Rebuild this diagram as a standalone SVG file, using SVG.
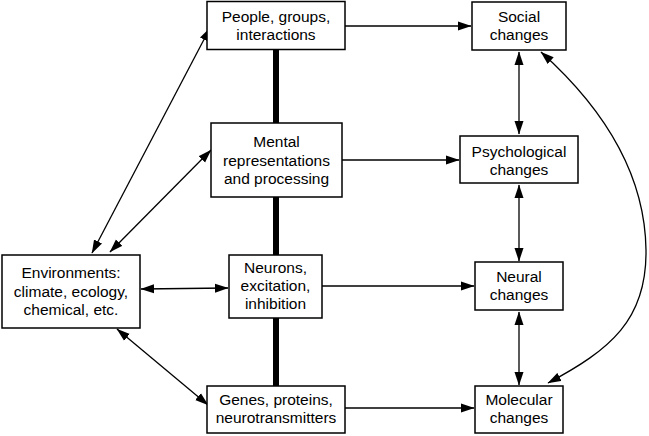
<svg xmlns="http://www.w3.org/2000/svg" width="649" height="436" viewBox="0 0 649 436">
<style>
.box{fill:#fff;stroke:#000;stroke-width:1.5}
.t{font-family:"Liberation Sans",Arial,sans-serif;font-size:15.5px;text-anchor:middle;fill:#000}
.c{fill:none;stroke:#000;stroke-width:1.3}
.thick{stroke:#000;stroke-width:6;stroke-linecap:round}
</style>
<defs>
<marker id="ah" markerUnits="userSpaceOnUse" markerWidth="14" markerHeight="10" refX="13" refY="5" orient="auto-start-reverse" viewBox="0 0 14 10">
<path d="M0,0.5 L13.5,5 L0,9.5 z" fill="#000"/>
</marker>
</defs>
<rect width="649" height="436" fill="#fff"/>
<g id="connectors">
<line class="thick" x1="276" y1="50" x2="276" y2="123"/>
<line class="thick" x1="276" y1="197" x2="276" y2="255"/>
<line class="thick" x1="276" y1="318" x2="276" y2="386"/>
<line class="c" x1="345" y1="26" x2="471" y2="26" marker-end="url(#ah)"/>
<line class="c" x1="342" y1="160" x2="459" y2="160" marker-end="url(#ah)"/>
<line class="c" x1="322" y1="286" x2="474" y2="286" marker-end="url(#ah)"/>
<line class="c" x1="345" y1="408" x2="474" y2="408" marker-end="url(#ah)"/>
<line class="c" x1="519" y1="52" x2="519" y2="134" marker-start="url(#ah)" marker-end="url(#ah)"/>
<line class="c" x1="519" y1="185" x2="519" y2="261" marker-start="url(#ah)" marker-end="url(#ah)"/>
<line class="c" x1="519" y1="312" x2="519" y2="385" marker-start="url(#ah)" marker-end="url(#ah)"/>
<line class="c" x1="92" y1="253" x2="210" y2="28" marker-start="url(#ah)" marker-end="url(#ah)"/>
<line class="c" x1="110" y1="252" x2="211" y2="150" marker-start="url(#ah)" marker-end="url(#ah)"/>
<line class="c" x1="141" y1="289" x2="228" y2="288" marker-start="url(#ah)" marker-end="url(#ah)"/>
<line class="c" x1="117" y1="329" x2="208" y2="405" marker-start="url(#ah)" marker-end="url(#ah)"/>
<path class="c" d="M541,52 C600,105 645,170 646,250 C647,320 610,350 548,383" marker-start="url(#ah)" marker-end="url(#ah)"/>
</g>
<g id="people"><rect class="box" x="207" y="1.5" width="138" height="48"/><text class="t" x="276" y="22">People, groups,</text><text class="t" x="276" y="40">interactions</text></g>
<g id="mental"><rect class="box" x="211" y="123" width="131" height="74"/><text class="t" x="276.5" y="147">Mental</text><text class="t" x="276.5" y="165.5">representations</text><text class="t" x="276.5" y="184">and processing</text></g>
<g id="neurons"><rect class="box" x="229" y="255" width="93" height="63"/><text class="t" x="275.5" y="273">Neurons,</text><text class="t" x="275.5" y="291">excitation,</text><text class="t" x="275.5" y="309">inhibition</text></g>
<g id="genes"><rect class="box" x="207" y="386" width="138" height="47"/><text class="t" x="276" y="405">Genes, proteins,</text><text class="t" x="276" y="423">neurotransmitters</text></g>
<g id="environments"><rect class="box" x="2" y="255" width="138" height="73"/><text class="t" x="71" y="278">Environments:</text><text class="t" x="71" y="296.5">climate, ecology,</text><text class="t" x="71" y="315">chemical, etc.</text></g>
<g id="social"><rect class="box" x="472" y="2" width="94" height="48"/><text class="t" x="519" y="22">Social</text><text class="t" x="519" y="40">changes</text></g>
<g id="psychological"><rect class="box" x="460" y="136" width="118" height="47"/><text class="t" x="519" y="157">Psychological</text><text class="t" x="519" y="175">changes</text></g>
<g id="neural"><rect class="box" x="475" y="262" width="88" height="48"/><text class="t" x="519" y="282">Neural</text><text class="t" x="519" y="300">changes</text></g>
<g id="molecular"><rect class="box" x="475" y="386" width="88" height="47"/><text class="t" x="519" y="405">Molecular</text><text class="t" x="519" y="423">changes</text></g>
</svg>
